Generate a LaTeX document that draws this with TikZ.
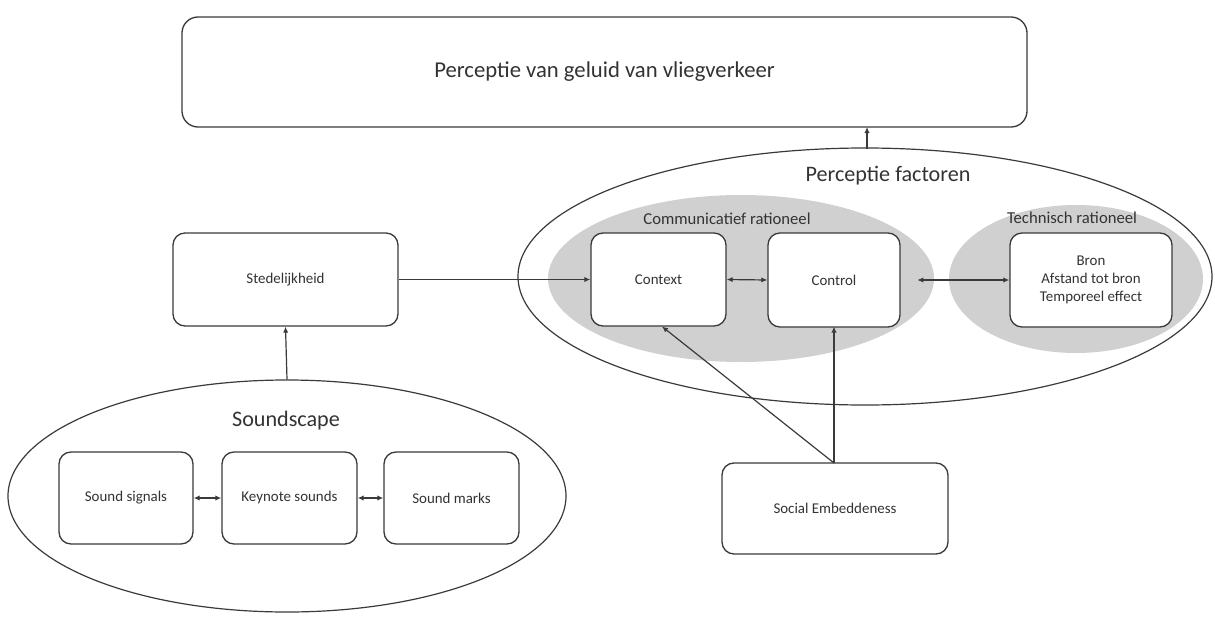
\documentclass[tikz,border=0pt]{standalone}
\usepackage{fontspec}
\setmainfont{Carlito}
\usetikzlibrary{arrows.meta,shapes.geometric}
\definecolor{ln}{HTML}{3A3A3A}
\definecolor{tx}{HTML}{333333}
\definecolor{grayfill}{HTML}{D0D0D0}
\tikzset{
  box/.style={draw=ln, line width=1pt, rounded corners=9pt, fill=white, text=tx, font=\fontsize{11.2}{13.5}\selectfont, align=center, inner sep=0pt},
  outerell/.style={draw=ln, line width=0.9pt, ellipse, inner sep=0pt},
  grayell/.style={draw=none, fill=grayfill, ellipse, inner sep=0pt},
  biglabel/.style={text=tx, font=\fontsize{16.6}{20}\selectfont},
  midlabel/.style={text=tx, font=\fontsize{12.5}{15}\selectfont},
  conn/.style={draw=ln, line width=0.9pt, -{Latex[length=4.5pt,width=4pt]}},
  biconn/.style={draw=ln, line width=0.9pt, {Latex[length=4.5pt,width=4pt]}-{Latex[length=4.5pt,width=4pt]}}
}
\begin{document}
\begin{tikzpicture}[x=0.75pt,y=-0.75pt]
\useasboundingbox (0,0) rectangle (1215,629);
% top box
\node[box, rounded corners=12pt, minimum width=633.75pt, minimum height=82.5pt, font=\fontsize{17}{20}\selectfont] (top) at (604.5,72) {Perceptie van geluid van vliegverkeer};
% ellipses
\node[outerell, minimum width=520.5pt, minimum height=192.75pt] (pf) at (865,276.5) {};
\node[grayell, minimum width=289.5pt, minimum height=125.25pt] (comm) at (741,278.5) {};
\node[grayell, minimum width=190.5pt, minimum height=111pt] (tech) at (1076,279) {};
\node[outerell, minimum width=418.5pt, minimum height=174pt] (ss) at (287,496) {};
% labels
\node[biglabel] (pflab) at (888,176) {Perceptie factoren};
\node[midlabel] (commlab) at (727,219) {Communicatief rationeel};
\node[midlabel] (techlab) at (1072,218) {Technisch rationeel};
\node[biglabel] (sslab) at (286,421) {Soundscape};
% boxes
\node[box, minimum width=168.75pt, minimum height=69.75pt] (sted) at (285.5,279.5) {Stedelijkheid};
\node[box, minimum width=101.25pt, minimum height=69.75pt] (ctx) at (658.5,279.5) {Context};
\node[box, minimum width=99pt, minimum height=70.5pt] (ctl) at (834,280) {Control};
\node[box, minimum width=121.5pt, minimum height=70.5pt] (tb) at (1091,280) {Bron\\Afstand tot bron\\Temporeel effect};
\node[box, minimum width=100.5pt, minimum height=69pt] (sig) at (126,498) {Sound signals};
\node[box, minimum width=101.25pt, minimum height=69pt] (key) at (289.5,498) {Keynote sounds};
\node[box, minimum width=101.25pt, minimum height=69pt] (mark) at (451.5,498) {Sound marks};
\node[box, minimum width=169.5pt, minimum height=68.25pt] (soc) at (835,508.5) {Social Embeddeness};
% helper coordinates
\coordinate (pftop) at (867,148.5);
\coordinate (toparr) at (867,127);
\coordinate (ctlout) at ([xshift=12.5pt]ctl.east);
\coordinate (socin) at (834,463);
\coordinate (ctxin) at (662,326.5);
\coordinate (ctlin) at (834,326.5);
% connectors
\draw[conn] (pftop) -- (toparr);
\draw[conn] (ss.north) -- (sted.south);
\draw[conn] (sted.east) -- (ctx.west);
\draw[biconn] (ctx.east) -- (ctl.west);
\draw[biconn] (ctlout) -- (tb.west);
\draw[biconn] (sig.east) -- (key.west);
\draw[biconn] (key.east) -- (mark.west);
\draw[conn] (socin) -- (ctxin);
\draw[conn] (socin) -- (ctlin);
\end{tikzpicture}
\end{document}
